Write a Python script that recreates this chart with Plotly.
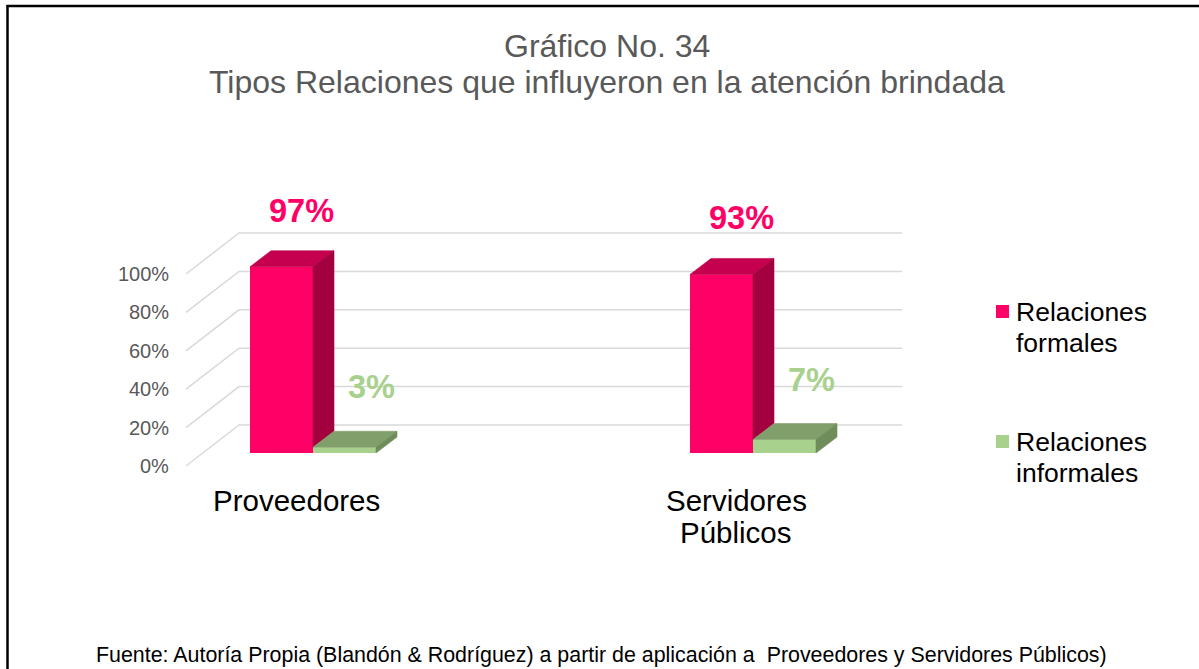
import plotly.graph_objects as go

# ---- data ----
categories = ["Proveedores", "Servidores Públicos"]
series_names = ["Relaciones formales", "Relaciones informales"]
formales = [97, 93]
informales = [3, 7]
tick_values = [0, 20, 40, 60, 80, 100]
tick_labels = ["0%", "20%", "40%", "60%", "80%", "100%"]

# ---- styling ----
W, H = 1199, 669
FONT = "Liberation Sans, Arial, sans-serif"
RED = ["#FF0066", "#C4004F", "#A3003F"]      # front, top, side
GREEN = ["#A9D18E", "#809F6B", "#6E8D5B"]    # front, top, side
GRID = "#D9D9D9"
GREY_TEXT = "#595959"

# pixel geometry of the pseudo-3D scene
CAT0_PX = 313          # first category centre on the bar plane
PX_PER_CAT = 440
BASE_PX = 453          # 0% on the bar plane
PX_PER_PCT = 1.92
BAR_W_PX = 63
BAR_DEPTH = (21, 16)   # receding offset of a bar (dx, dy) in px
FRONT_LEFT = (186, 466)  # front edge of the floor at 0%
BACK_LEFT = (239, 425)   # back wall corner at 0%
BACK_RIGHT_X = 902


def ux(px_offset):
    return px_offset / PX_PER_CAT


def uy(px_offset):
    return px_offset / PX_PER_PCT


def px_to_x(px):
    return (px - CAT0_PX) / PX_PER_CAT


def py_to_y(py):
    return (BASE_PX - py) / PX_PER_PCT


BW = ux(BAR_W_PX)
DX, DY = ux(BAR_DEPTH[0]), uy(BAR_DEPTH[1])

fig = go.Figure()

idx = list(range(len(categories)))

# front faces of the bars
fig.add_trace(go.Bar(x=[i - BW / 2 for i in idx], y=formales, width=BW,
                     marker=dict(color=RED[0], line=dict(width=0)),
                     name=series_names[0], showlegend=False, hoverinfo="skip"))
fig.add_trace(go.Bar(x=[i + BW / 2 for i in idx], y=informales, width=BW,
                     marker=dict(color=GREEN[0], line=dict(width=0)),
                     name=series_names[1], showlegend=False, hoverinfo="skip"))


def face(xs, ys, color):
    fig.add_trace(go.Scatter(x=xs + [xs[0]], y=ys + [ys[0]], mode="lines",
                             fill="toself", fillcolor=color,
                             line=dict(color=color, width=0.6),
                             showlegend=False, hoverinfo="skip"))


# top and side faces
for i in idx:
    for k, (vals, cols) in enumerate([(formales, RED), (informales, GREEN)]):
        top = vals[i]
        xl = i - BW if k == 0 else i
        xr = xl + BW
        base = informales[i] if k == 0 else 0
        face([xl, xr, xr + DX, xl + DX], [top, top, top + DY, top + DY], cols[1])
        face([xr, xr + DX, xr + DX, xr], [base, base + DY, top + DY, top], cols[2])

# gridlines on floor side and back wall
xf = px_to_x(FRONT_LEFT[0])
yf0 = py_to_y(FRONT_LEFT[1])
xb = px_to_x(BACK_LEFT[0])
yb0 = py_to_y(BACK_LEFT[1])
xe = px_to_x(BACK_RIGHT_X)
for t, lab in zip(tick_values, tick_labels):
    fig.add_shape(type="path", layer="below",
                  path=f"M {xf},{yf0 + t} L {xb},{yb0 + t} L {xe},{yb0 + t}",
                  line=dict(color=GRID, width=1.5), xref="x", yref="y")
    fig.add_annotation(x=xf, y=yf0 + t, text=lab, showarrow=False,
                       xanchor="right", yanchor="middle", xshift=-15,
                       font=dict(family=FONT, size=20, color=GREY_TEXT))

# value labels
for vals, col, xoff, lift, sign in [(formales, RED[0], 19.5, 56, -1),
                                    (informales, GREEN[0], 27, 60, 1)]:
    for i in idx:
        fig.add_annotation(x=i + sign * BW / 2, y=vals[i], text=f"<b>{vals[i]}%</b>",
                           showarrow=False, xanchor="center", yanchor="middle",
                           xshift=xoff, yshift=lift,
                           font=dict(family=FONT, size=32.5, color=col))

# category labels on the front edge
for i, cat in zip(idx, categories):
    for j, line in enumerate(cat.split(" ")):
        fig.add_annotation(x=i + ux(-17), y=py_to_y(500 + 32 * j), text=line,
                           showarrow=False, xanchor="center", yanchor="middle",
                           font=dict(family=FONT, size=29.5, color="black"))

# legend
for k, (name, col) in enumerate(zip(series_names, [RED[0], GREEN[0]])):
    y0 = 305 + 130 * k
    fig.add_shape(type="rect", xref="paper", yref="paper",
                  x0=996 / W, x1=1009 / W, y0=1 - y0 / H, y1=1 - (y0 + 13) / H,
                  fillcolor=col, line=dict(width=0))
    for j, line in enumerate(name.split(" ")):
        fig.add_annotation(x=1014 / W, y=1 - (312 + 130 * k + 31 * j) / H,
                           xref="paper", yref="paper", text=line, showarrow=False,
                           xanchor="left", yanchor="middle",
                           font=dict(family=FONT, size=26.5, color="black"))

# title
for j, line in enumerate(["Gráfico No. 34",
                          "Tipos Relaciones que influyeron en la atención brindada"]):
    fig.add_annotation(x=607 / W, y=1 - (46 + 36 * j) / H, xref="paper", yref="paper",
                       text=line, showarrow=False, xanchor="center", yanchor="middle",
                       font=dict(family=FONT, size=32, color=GREY_TEXT))

# source note
fig.add_annotation(x=601 / W, y=1 - 655 / H, xref="paper", yref="paper",
                   text="Fuente: Autoría Propia (Blandón &amp; Rodríguez) a partir de aplicación a\u00a0 Proveedores y Servidores Públicos)",
                   showarrow=False, xanchor="center", yanchor="middle",
                   font=dict(family=FONT, size=21.4, color="black"))

# frame
fig.add_shape(type="line", xref="paper", yref="paper", x0=7.5 / W, x1=7.5 / W,
              y0=1 - 5 / H, y1=-0.05, line=dict(color="black", width=2.5))
fig.add_shape(type="line", xref="paper", yref="paper", x0=6.5 / W, x1=1.05,
              y0=1 - 6 / H, y1=1 - 6 / H, line=dict(color="black", width=2.5))

fig.update_layout(
    width=W, height=H, autosize=False,
    margin=dict(l=0, r=0, t=0, b=0),
    paper_bgcolor="white", plot_bgcolor="white",
    barmode="overlay", showlegend=False,
    xaxis=dict(range=[px_to_x(0), px_to_x(W)], visible=False, fixedrange=True),
    yaxis=dict(range=[py_to_y(H), py_to_y(0)], visible=False, fixedrange=True),
)

fig.write_html("out.html")
